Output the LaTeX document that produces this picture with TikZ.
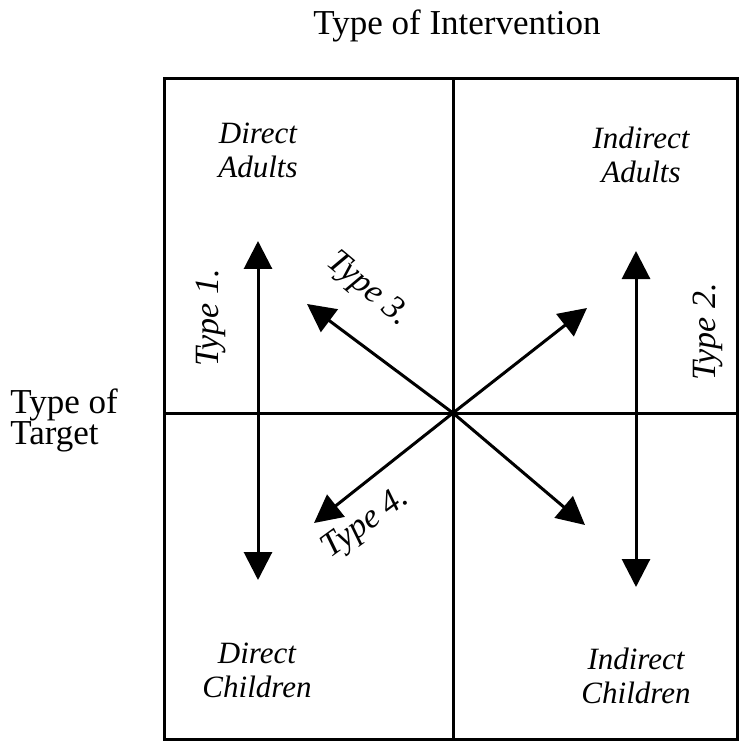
\documentclass[tikz,border=0pt]{standalone}
\usepackage{fontspec}
\setmainfont{Liberation Serif}
\usetikzlibrary{arrows.meta}

\begin{document}
\begin{tikzpicture}[x=0.5pt,y=-0.5pt,
  frame/.style={line width=1.5pt},
  twoway/.style={line width=1.5pt,{Triangle[length=14pt,width=14pt]}-{Triangle[length=14pt,width=14pt]}},
  oneway/.style={line width=1.5pt,-{Triangle[length=14pt,width=14pt]}},
  cell/.style={font=\fontsize{15.5}{17}\selectfont\itshape,align=center,inner sep=0pt},
  kind/.style={font=\fontsize{17}{17}\selectfont\itshape,inner sep=0pt}]
\useasboundingbox (0,0) rectangle (742,753);
% grid
\draw[frame] (164,79) rectangle (737,739);
\draw[frame] (453,79)--(453,739);
\draw[frame] (164,413)--(737,413);
% headings
\node[anchor=base,font=\fontsize{17.5}{17}\selectfont] (head) at (457,35) {Type of Intervention};
\node[anchor=west,align=left,inner sep=0pt,font=\fontsize{17.5}{15.5}\selectfont] (side) at (10,420) {Type of\\Target};
% cells
\node[cell] (da) at (258,150) {Direct\\Adults};
\node[cell] (ia) at (641,155) {Indirect\\Adults};
\node[cell] (dc) at (257,670) {Direct\\Children};
\node[cell] (ic) at (636,676) {Indirect\\Children};
% arrows
\coordinate (mid) at (453,413);
\coordinate (lt) at (258,241);
\coordinate (lb) at (258,580);
\coordinate (rt) at (636,251);
\coordinate (rb) at (636,587);
\coordinate (ul) at (307,304);
\coordinate (ur) at (587,308);
\coordinate (dl) at (314,523);
\coordinate (dr) at (585,525);
\draw[twoway] (lt)--(lb);
\draw[twoway] (rt)--(rb);
\draw[oneway] (mid)--(ul);
\draw[oneway] (mid)--(ur);
\draw[oneway] (mid)--(dl);
\draw[oneway] (mid)--(dr);
\node[kind,rotate=90] (t1) at (211,318) {Type 1.};
\node[kind,rotate=90] (t2) at (708,332) {Type 2.};
\node[kind,rotate=-40] (t3) at (368,290) {Type 3.};
\node[kind,rotate=36] (t4) at (366,524) {Type 4.};
\end{tikzpicture}
\end{document}
